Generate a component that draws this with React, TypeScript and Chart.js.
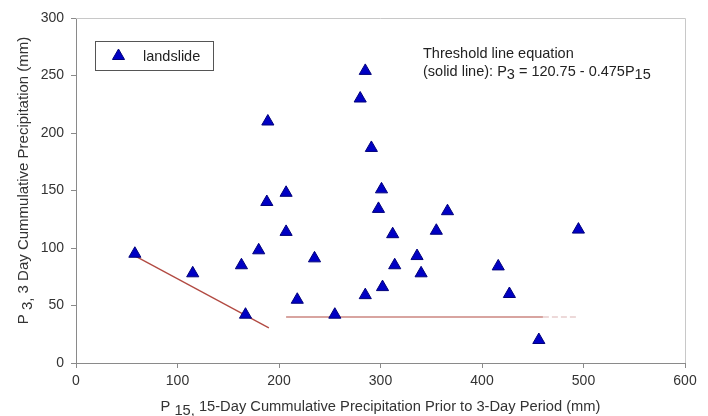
import React, { useEffect, useRef } from "react";
import { Chart, registerables } from "chart.js";

Chart.register(...registerables);

// Landslide events: 15-day antecedent precipitation vs 3-day precipitation (mm)
const landslideP15 = [58, 115, 163, 167, 180, 188, 189, 207, 207, 218, 235, 255, 280, 285, 285, 291, 298, 301, 302, 312, 314, 336, 340, 355, 366, 416, 427, 456, 495];
const landslideP3 = [95, 78, 85, 42, 98, 140, 210, 148, 114, 55, 91, 42, 230, 254, 59, 187, 134, 151, 66, 112, 85, 93, 78, 115, 132, 84, 60, 20, 116];

// Threshold line P3 = 120.75 - 0.475 P15, drawn between these P15 values
const thresholdIntercept = 120.75;
const thresholdSlope = -0.475;
const thresholdP15 = [58, 190];

// Lower bound of 40 mm (solid part, then dashed continuation)
const floorP3 = 40;
const floorSolidP15 = [207, 460];
const floorDashedP15 = [460, 495];

const xTicks = [0, 100, 200, 300, 400, 500, 600];
const yTicks = [0, 50, 100, 150, 200, 250, 300];

const FONT = "'Liberation Sans', Arial, sans-serif";
const TEXT = "#333333";
const AXIS = "#8a8a8a";
const BLUE = "#0000c4";
const BLUE_EDGE = "#00007a";
const RED = "#b24a42";

type Run = { t: string; sub?: boolean };

// Draws text pieces with optional subscripts starting at x, on a baseline y
function drawRuns(ctx: CanvasRenderingContext2D, runs: Run[], x: number, y: number, size: number, subShift: number) {
  let cx = x;
  ctx.font = `${size}px ${FONT}`;
  for (const r of runs) {
    ctx.fillText(r.t, cx, r.sub ? y + subShift : y);
    cx += ctx.measureText(r.t).width;
  }
}

function runsWidth(ctx: CanvasRenderingContext2D, runs: Run[], size: number) {
  ctx.font = `${size}px ${FONT}`;
  let w = 0;
  for (const r of runs) w += ctx.measureText(r.t).width;
  return w;
}

const decorPlugin = {
  id: "decor",
  afterDraw(chart: any) {
    const ctx: CanvasRenderingContext2D = chart.ctx;
    const a = chart.chartArea;
    ctx.save();

    // light frame on top and right
    ctx.strokeStyle = "#c8c8c8";
    ctx.lineWidth = 1;
    ctx.beginPath();
    ctx.moveTo(a.left, a.top + 0.5);
    ctx.lineTo(a.right + 0.5, a.top + 0.5);
    ctx.lineTo(a.right + 0.5, a.bottom);
    ctx.stroke();

    ctx.fillStyle = TEXT;
    ctx.textBaseline = "alphabetic";
    ctx.textAlign = "left";

    // x axis title
    const xRuns: Run[] = [
      { t: "P " },
      { t: "15,", sub: true },
      { t: " 15-Day Cummulative Precipitation Prior to 3-Day Period (mm)" },
    ];
    const xw = runsWidth(ctx, xRuns, 14.7);
    drawRuns(ctx, xRuns, (a.left + a.right) / 2 - xw / 2, 411, 14.7, 4);

    // y axis title (rotated)
    const yRuns: Run[] = [
      { t: "P " },
      { t: "3,", sub: true },
      { t: " 3 Day Cummulative Precipitation (mm)" },
    ];
    const yw = runsWidth(ctx, yRuns, 15);
    ctx.save();
    ctx.translate(28, (a.top + a.bottom) / 2 - 10);
    ctx.rotate(-Math.PI / 2);
    drawRuns(ctx, yRuns, -yw / 2, 0, 15, 4);
    ctx.restore();

    // equation note
    ctx.fillStyle = "#222222";
    drawRuns(ctx, [{ t: "Threshold line equation" }], 423, 58, 14.5, 0);
    drawRuns(
      ctx,
      [
        { t: "(solid line): P" },
        { t: "3", sub: true },
        { t: " = 120.75 - 0.475P" },
        { t: "15", sub: true },
      ],
      423,
      76,
      14.5,
      3
    );

    // legend box
    ctx.strokeStyle = "#555555";
    ctx.lineWidth = 1;
    ctx.strokeRect(95.5, 41.5, 118, 29);
    const ds = chart.data.datasets[0];
    const r = 7;
    const cx = 118.5;
    const cy = 56;
    ctx.fillStyle = BLUE;
    ctx.strokeStyle = BLUE_EDGE;
    ctx.beginPath();
    ctx.moveTo(cx, cy - r);
    ctx.lineTo(cx + r * 0.866, cy + r * 0.5);
    ctx.lineTo(cx - r * 0.866, cy + r * 0.5);
    ctx.closePath();
    ctx.fill();
    ctx.stroke();
    ctx.fillStyle = "#222222";
    ctx.font = `14.5px ${FONT}`;
    ctx.fillText(ds.label, 143, 61);

    ctx.restore();
  },
};

export default function App() {
  const ref = useRef<HTMLCanvasElement | null>(null);

  useEffect(() => {
    if (!ref.current) return;
    const points = landslideP15.map((x, i) => ({ x, y: landslideP3[i] }));
    const threshold = thresholdP15.map((x) => ({ x, y: thresholdIntercept + thresholdSlope * x }));
    const floorSolid = floorSolidP15.map((x) => ({ x, y: floorP3 }));
    const floorDashed = floorDashedP15.map((x) => ({ x, y: floorP3 }));

    const chart = new Chart(ref.current, {
      type: "scatter",
      data: {
        datasets: [
          {
            label: "landslide",
            data: points,
            pointStyle: "triangle",
            pointRadius: 7,
            pointHoverRadius: 7,
            backgroundColor: BLUE,
            borderColor: BLUE_EDGE,
            borderWidth: 1,
            order: 0,
          },
          {
            label: "threshold",
            data: threshold,
            showLine: true,
            pointRadius: 0,
            borderColor: RED,
            borderWidth: 1.3,
            order: 1,
          },
          {
            label: "floor",
            data: floorSolid,
            showLine: true,
            pointRadius: 0,
            borderColor: RED,
            borderWidth: 1.2,
            order: 1,
          },
          {
            label: "floor-dashed",
            data: floorDashed,
            showLine: true,
            pointRadius: 0,
            borderColor: "rgba(205,150,150,0.7)",
            borderWidth: 1.2,
            borderDash: [6, 3],
            order: 1,
          },
        ],
      },
      options: {
        responsive: false,
        animation: false,
        devicePixelRatio: 1,
        layout: { padding: { top: 18, right: 23, left: 0, bottom: 0 } },
        plugins: { legend: { display: false }, tooltip: { enabled: false } },
        scales: {
          x: {
            type: "linear",
            min: 0,
            max: 600,
            afterFit: (s: any) => {
              s.height = 53;
            },
            afterBuildTicks: (s: any) => {
              s.ticks = xTicks.map((v) => ({ value: v }));
            },
            ticks: { color: TEXT, font: { family: FONT, size: 14 }, padding: 5 },
            grid: { drawOnChartArea: false, drawTicks: true, tickLength: 5, color: AXIS },
            border: { color: AXIS, width: 1 },
          },
          y: {
            type: "linear",
            min: 0,
            max: 300,
            afterFit: (s: any) => {
              s.width = 76;
            },
            afterBuildTicks: (s: any) => {
              s.ticks = yTicks.map((v) => ({ value: v }));
            },
            ticks: { color: TEXT, font: { family: FONT, size: 14 }, padding: 7 },
            grid: { drawOnChartArea: false, drawTicks: true, tickLength: 5, color: AXIS },
            border: { color: AXIS, width: 1 },
          },
        },
      },
      plugins: [decorPlugin],
    });
    return () => chart.destroy();
  }, []);

  return (
    <div style={{ position: "absolute", left: 0, top: 0, width: 708, height: 416, background: "#fff" }}>
      <canvas ref={ref} width={708} height={416} style={{ display: "block" }} />
    </div>
  );
}
